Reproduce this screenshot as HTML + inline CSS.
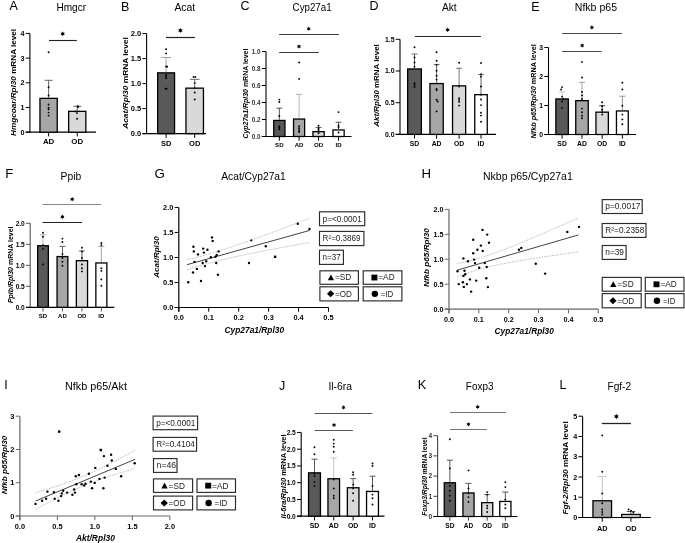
<!DOCTYPE html>
<html><head><meta charset="utf-8"><style>
html,body{margin:0;padding:0;background:#fff;}
svg{display:block;font-family:"Liberation Sans", sans-serif;will-change:transform;}
</style></head><body>
<svg width="685" height="543" viewBox="0 0 685 543">
<rect width="685" height="543" fill="#fff"/>
<text x="9.6" y="10.3" font-size="12.5" font-weight="normal" font-style="normal" text-anchor="start" fill="#000">A</text>
<text x="56.4" y="11.1" font-size="10.2" font-weight="normal" font-style="normal" text-anchor="start" fill="#000" textLength="29.7" lengthAdjust="spacingAndGlyphs">Hmgcr</text>
<text x="121.0" y="11.0" font-size="12.5" font-weight="normal" font-style="normal" text-anchor="start" fill="#000">B</text>
<text x="174.4" y="11.3" font-size="10.2" font-weight="normal" font-style="normal" text-anchor="start" fill="#000" textLength="20.8" lengthAdjust="spacingAndGlyphs">Acat</text>
<text x="240.6" y="10.3" font-size="12.5" font-weight="normal" font-style="normal" text-anchor="start" fill="#000">C</text>
<text x="292.6" y="11.3" font-size="10.2" font-weight="normal" font-style="normal" text-anchor="start" fill="#000" textLength="39" lengthAdjust="spacingAndGlyphs">Cyp27a1</text>
<text x="369.6" y="10.3" font-size="12.5" font-weight="normal" font-style="normal" text-anchor="start" fill="#000">D</text>
<text x="442.0" y="11.3" font-size="10.2" font-weight="normal" font-style="normal" text-anchor="start" fill="#000" textLength="14.7" lengthAdjust="spacingAndGlyphs">Akt</text>
<text x="531.3" y="11.0" font-size="12.5" font-weight="normal" font-style="normal" text-anchor="start" fill="#000">E</text>
<text x="574.8" y="11.3" font-size="10.2" font-weight="normal" font-style="normal" text-anchor="start" fill="#000" textLength="42.2" lengthAdjust="spacingAndGlyphs">Nfkb p65</text>
<line x1="29.9" y1="33.39999999999999" x2="29.9" y2="132.7" stroke="#000" stroke-width="1.1"/>
<line x1="25.7" y1="132.2" x2="29.9" y2="132.2" stroke="#000" stroke-width="1.0"/>
<text x="24.5" y="134.792" font-size="7.2" font-weight="bold" font-style="normal" text-anchor="end" fill="#000">0</text>
<line x1="25.7" y1="107.49999999999999" x2="29.9" y2="107.49999999999999" stroke="#000" stroke-width="1.0"/>
<text x="24.5" y="110.09199999999998" font-size="7.2" font-weight="bold" font-style="normal" text-anchor="end" fill="#000">1</text>
<line x1="25.7" y1="82.79999999999998" x2="29.9" y2="82.79999999999998" stroke="#000" stroke-width="1.0"/>
<text x="24.5" y="85.39199999999998" font-size="7.2" font-weight="bold" font-style="normal" text-anchor="end" fill="#000">2</text>
<line x1="25.7" y1="58.099999999999994" x2="29.9" y2="58.099999999999994" stroke="#000" stroke-width="1.0"/>
<text x="24.5" y="60.69199999999999" font-size="7.2" font-weight="bold" font-style="normal" text-anchor="end" fill="#000">3</text>
<line x1="25.7" y1="33.39999999999999" x2="29.9" y2="33.39999999999999" stroke="#000" stroke-width="1.0"/>
<text x="24.5" y="35.99199999999999" font-size="7.2" font-weight="bold" font-style="normal" text-anchor="end" fill="#000">4</text>
<line x1="25.7" y1="132.2" x2="96" y2="132.2" stroke="#000" stroke-width="1.2"/>
<line x1="48.599999999999994" y1="97.7" x2="48.599999999999994" y2="80.3" stroke="#555" stroke-width="0.9"/>
<line x1="44.599999999999994" y1="80.3" x2="52.599999999999994" y2="80.3" stroke="#555" stroke-width="0.9"/>
<rect x="39.949999999999996" y="98.35000000000001" width="17.3" height="33.84999999999999" fill="#a6a6a6" stroke="#000" stroke-width="1.3"/>
<line x1="48.599999999999994" y1="132.2" x2="48.599999999999994" y2="136.39999999999998" stroke="#000" stroke-width="1.0"/>
<text x="48.599999999999994" y="144.3" font-size="7.9" font-weight="bold" font-style="normal" text-anchor="middle" fill="#000">AD</text>
<line x1="77.25" y1="110.7" x2="77.25" y2="106.3" stroke="#555" stroke-width="0.9"/>
<line x1="73.25" y1="106.3" x2="81.25" y2="106.3" stroke="#555" stroke-width="0.9"/>
<rect x="68.65" y="111.35000000000001" width="17.2" height="20.849999999999987" fill="#d9d9d9" stroke="#000" stroke-width="1.3"/>
<line x1="77.25" y1="132.2" x2="77.25" y2="136.39999999999998" stroke="#000" stroke-width="1.0"/>
<text x="77.25" y="144.3" font-size="7.9" font-weight="bold" font-style="normal" text-anchor="middle" fill="#000">OD</text>
<circle cx="48.599999999999994" cy="52.3" r="0.95" fill="#000"/>
<circle cx="48.599999999999994" cy="87.2" r="0.95" fill="#000"/>
<circle cx="48.599999999999994" cy="95.5" r="0.95" fill="#000"/>
<circle cx="48.599999999999994" cy="104.5" r="0.95" fill="#000"/>
<circle cx="48.599999999999994" cy="107.6" r="0.95" fill="#000"/>
<circle cx="48.599999999999994" cy="109.3" r="0.95" fill="#000"/>
<circle cx="48.599999999999994" cy="112.6" r="0.95" fill="#000"/>
<circle cx="48.599999999999994" cy="115.6" r="0.95" fill="#000"/>
<circle cx="77.65" cy="106.3" r="0.95" fill="#000"/>
<circle cx="75.95" cy="111.5" r="0.95" fill="#000"/>
<circle cx="77.05" cy="113.1" r="0.95" fill="#000"/>
<circle cx="77.05" cy="118.7" r="0.95" fill="#000"/>
<circle cx="78.25" cy="107" r="0.95" fill="#000"/>
<line x1="49" y1="40.5" x2="76.8" y2="40.5" stroke="#222" stroke-width="1.1"/>
<polygon points="62.70,31.30 62.08,32.72 60.53,32.55 61.45,33.80 60.53,35.05 62.08,34.88 62.70,36.30 63.33,34.88 64.87,35.05 63.95,33.80 64.87,32.55 63.33,32.72" fill="#000"/>
<text transform="translate(15.736,82.4) rotate(-90)" x="0" y="0" font-size="7.6" font-weight="bold" text-anchor="middle" textLength="107" lengthAdjust="spacingAndGlyphs"><tspan font-style="italic">Hmgcoar/Rpl30</tspan> mRNA level</text>
<line x1="146.6" y1="33.599999999999994" x2="146.6" y2="134.1" stroke="#000" stroke-width="1.1"/>
<line x1="142.4" y1="133.6" x2="146.6" y2="133.6" stroke="#000" stroke-width="1.0"/>
<text x="141.20000000000002" y="136.29999999999998" font-size="7.5" font-weight="bold" font-style="normal" text-anchor="end" fill="#000">0.0</text>
<line x1="142.4" y1="108.6" x2="146.6" y2="108.6" stroke="#000" stroke-width="1.0"/>
<text x="141.20000000000002" y="111.3" font-size="7.5" font-weight="bold" font-style="normal" text-anchor="end" fill="#000">0.5</text>
<line x1="142.4" y1="83.6" x2="146.6" y2="83.6" stroke="#000" stroke-width="1.0"/>
<text x="141.20000000000002" y="86.3" font-size="7.5" font-weight="bold" font-style="normal" text-anchor="end" fill="#000">1.0</text>
<line x1="142.4" y1="58.599999999999994" x2="146.6" y2="58.599999999999994" stroke="#000" stroke-width="1.0"/>
<text x="141.20000000000002" y="61.3" font-size="7.5" font-weight="bold" font-style="normal" text-anchor="end" fill="#000">1.5</text>
<line x1="142.4" y1="33.599999999999994" x2="146.6" y2="33.599999999999994" stroke="#000" stroke-width="1.0"/>
<text x="141.20000000000002" y="36.3" font-size="7.5" font-weight="bold" font-style="normal" text-anchor="end" fill="#000">2.0</text>
<line x1="142.4" y1="133.6" x2="206" y2="133.6" stroke="#000" stroke-width="1.2"/>
<line x1="166.1" y1="72.2" x2="166.1" y2="57.5" stroke="#999" stroke-width="0.9"/>
<line x1="161.2" y1="57.5" x2="171.0" y2="57.5" stroke="#999" stroke-width="0.9"/>
<rect x="157.65" y="72.85000000000001" width="16.899999999999988" height="60.74999999999999" fill="#595959" stroke="#000" stroke-width="1.3"/>
<line x1="166.1" y1="133.6" x2="166.1" y2="137.79999999999998" stroke="#000" stroke-width="1.0"/>
<text x="166.1" y="145.7" font-size="7.5" font-weight="bold" font-style="normal" text-anchor="middle" fill="#000">SD</text>
<line x1="194.7" y1="87.5" x2="194.7" y2="79.3" stroke="#555" stroke-width="0.9"/>
<line x1="189.79999999999998" y1="79.3" x2="199.6" y2="79.3" stroke="#555" stroke-width="0.9"/>
<rect x="185.95000000000002" y="88.15" width="17.499999999999982" height="45.449999999999996" fill="#d9d9d9" stroke="#000" stroke-width="1.3"/>
<line x1="194.7" y1="133.6" x2="194.7" y2="137.79999999999998" stroke="#000" stroke-width="1.0"/>
<text x="194.7" y="145.7" font-size="7.5" font-weight="bold" font-style="normal" text-anchor="middle" fill="#000">OD</text>
<circle cx="166.1" cy="49.2" r="0.95" fill="#000"/>
<circle cx="166.1" cy="53.4" r="0.95" fill="#000"/>
<circle cx="166.1" cy="66.4" r="0.95" fill="#000"/>
<circle cx="167.1" cy="66.8" r="0.95" fill="#000"/>
<circle cx="166.1" cy="74.9" r="0.95" fill="#000"/>
<circle cx="166.1" cy="76.5" r="0.95" fill="#000"/>
<circle cx="166.1" cy="78.2" r="0.95" fill="#000"/>
<circle cx="165.5" cy="88.7" r="0.95" fill="#000"/>
<circle cx="166.7" cy="88.7" r="0.95" fill="#000"/>
<circle cx="193.6" cy="76.9" r="0.95" fill="#000"/>
<circle cx="195.29999999999998" cy="76.9" r="0.95" fill="#000"/>
<circle cx="194.7" cy="83.1" r="0.95" fill="#000"/>
<circle cx="194.7" cy="88.1" r="0.95" fill="#000"/>
<circle cx="194.7" cy="92.5" r="0.95" fill="#000"/>
<circle cx="194.7" cy="99.5" r="0.95" fill="#000"/>
<line x1="166" y1="37.5" x2="194.9" y2="37.5" stroke="#222" stroke-width="1.2"/>
<polygon points="180.40,27.90 179.75,29.37 178.15,29.20 179.10,30.50 178.15,31.80 179.75,31.63 180.40,33.10 181.05,31.63 182.65,31.80 181.70,30.50 182.65,29.20 181.05,29.37" fill="#000"/>
<text transform="translate(127.63600000000001,83) rotate(-90)" x="0" y="0" font-size="7.6" font-weight="bold" text-anchor="middle" textLength="91.7" lengthAdjust="spacingAndGlyphs"><tspan font-style="italic">Acat/Rpl30</tspan> mRNA level</text>
<line x1="266" y1="51.5" x2="266" y2="137.0" stroke="#000" stroke-width="1.1"/>
<line x1="261.8" y1="136.5" x2="266" y2="136.5" stroke="#000" stroke-width="1.0"/>
<text x="260.6" y="138.768" font-size="6.3" font-weight="bold" font-style="normal" text-anchor="end" fill="#333">0.0</text>
<line x1="261.8" y1="119.5" x2="266" y2="119.5" stroke="#000" stroke-width="1.0"/>
<text x="260.6" y="121.768" font-size="6.3" font-weight="bold" font-style="normal" text-anchor="end" fill="#333">0.2</text>
<line x1="261.8" y1="102.5" x2="266" y2="102.5" stroke="#000" stroke-width="1.0"/>
<text x="260.6" y="104.768" font-size="6.3" font-weight="bold" font-style="normal" text-anchor="end" fill="#333">0.4</text>
<line x1="261.8" y1="85.5" x2="266" y2="85.5" stroke="#000" stroke-width="1.0"/>
<text x="260.6" y="87.768" font-size="6.3" font-weight="bold" font-style="normal" text-anchor="end" fill="#333">0.6</text>
<line x1="261.8" y1="68.5" x2="266" y2="68.5" stroke="#000" stroke-width="1.0"/>
<text x="260.6" y="70.768" font-size="6.3" font-weight="bold" font-style="normal" text-anchor="end" fill="#333">0.8</text>
<line x1="261.8" y1="51.5" x2="266" y2="51.5" stroke="#000" stroke-width="1.0"/>
<text x="260.6" y="53.768" font-size="6.3" font-weight="bold" font-style="normal" text-anchor="end" fill="#333">1.0</text>
<line x1="261.8" y1="136.5" x2="351.5" y2="136.5" stroke="#000" stroke-width="1.2"/>
<line x1="279.35" y1="119.8" x2="279.35" y2="108.2" stroke="#444" stroke-width="0.9"/>
<line x1="276.45000000000005" y1="108.2" x2="282.25" y2="108.2" stroke="#444" stroke-width="0.9"/>
<rect x="273.75" y="120.45" width="11.2" height="16.050000000000004" fill="#595959" stroke="#000" stroke-width="1.3"/>
<line x1="279.35" y1="136.5" x2="279.35" y2="140.7" stroke="#000" stroke-width="1.0"/>
<text x="279.35" y="147" font-size="6.1" font-weight="bold" font-style="normal" text-anchor="middle" fill="#000">SD</text>
<line x1="299.1" y1="118.4" x2="299.1" y2="94.4" stroke="#aaa" stroke-width="0.9"/>
<line x1="296.20000000000005" y1="94.4" x2="302.0" y2="94.4" stroke="#aaa" stroke-width="0.9"/>
<rect x="293.54999999999995" y="119.05000000000001" width="11.100000000000033" height="17.449999999999996" fill="#a6a6a6" stroke="#000" stroke-width="1.3"/>
<line x1="299.1" y1="136.5" x2="299.1" y2="140.7" stroke="#000" stroke-width="1.0"/>
<text x="299.1" y="147" font-size="6.1" font-weight="bold" font-style="normal" text-anchor="middle" fill="#000">AD</text>
<line x1="318.55" y1="131" x2="318.55" y2="127.5" stroke="#444" stroke-width="0.9"/>
<line x1="315.65000000000003" y1="127.5" x2="321.45" y2="127.5" stroke="#444" stroke-width="0.9"/>
<rect x="312.95" y="131.65" width="11.2" height="4.85" fill="#d9d9d9" stroke="#000" stroke-width="1.3"/>
<line x1="318.55" y1="136.5" x2="318.55" y2="140.7" stroke="#000" stroke-width="1.0"/>
<text x="318.55" y="147" font-size="6.1" font-weight="bold" font-style="normal" text-anchor="middle" fill="#000">OD</text>
<line x1="338.55" y1="129.3" x2="338.55" y2="122.3" stroke="#444" stroke-width="0.9"/>
<line x1="335.65000000000003" y1="122.3" x2="341.45" y2="122.3" stroke="#444" stroke-width="0.9"/>
<rect x="332.95" y="129.95000000000002" width="11.2" height="6.549999999999988" fill="#ffffff" stroke="#000" stroke-width="1.3"/>
<line x1="338.55" y1="136.5" x2="338.55" y2="140.7" stroke="#000" stroke-width="1.0"/>
<text x="338.55" y="147" font-size="6.1" font-weight="bold" font-style="normal" text-anchor="middle" fill="#000">ID</text>
<circle cx="279.35" cy="99.6" r="0.95" fill="#000"/>
<circle cx="279.35" cy="102" r="0.95" fill="#000"/>
<circle cx="279.35" cy="116" r="0.95" fill="#000"/>
<circle cx="279.35" cy="126.2" r="0.95" fill="#000"/>
<circle cx="279.35" cy="127.8" r="0.95" fill="#000"/>
<circle cx="279.35" cy="129.3" r="0.95" fill="#000"/>
<circle cx="299.1" cy="62.5" r="0.95" fill="#000"/>
<circle cx="299.1" cy="78.9" r="0.95" fill="#000"/>
<circle cx="299.1" cy="126.2" r="0.95" fill="#000"/>
<circle cx="299.1" cy="128.2" r="0.95" fill="#000"/>
<circle cx="299.1" cy="130.2" r="0.95" fill="#000"/>
<circle cx="299.1" cy="132" r="0.95" fill="#000"/>
<circle cx="318.55" cy="125.7" r="0.95" fill="#000"/>
<circle cx="318.55" cy="128.5" r="0.95" fill="#000"/>
<circle cx="318.55" cy="130" r="0.95" fill="#000"/>
<circle cx="318.55" cy="131.5" r="0.95" fill="#000"/>
<circle cx="318.55" cy="133.2" r="0.95" fill="#000"/>
<circle cx="338.55" cy="112.1" r="0.95" fill="#000"/>
<circle cx="338.55" cy="125.4" r="0.95" fill="#000"/>
<circle cx="338.55" cy="127.3" r="0.95" fill="#000"/>
<circle cx="338.55" cy="132.5" r="0.95" fill="#000"/>
<line x1="279.1" y1="34.5" x2="338.9" y2="34.5" stroke="#222" stroke-width="0.9"/>
<polygon points="308.70,26.50 308.12,27.80 306.71,27.65 307.55,28.80 306.71,29.95 308.12,29.80 308.70,31.10 309.27,29.80 310.69,29.95 309.85,28.80 310.69,27.65 309.27,27.80" fill="#000"/>
<line x1="279.1" y1="52.5" x2="318.9" y2="52.5" stroke="#222" stroke-width="0.9"/>
<polygon points="299.00,44.20 298.43,45.50 297.01,45.35 297.85,46.50 297.01,47.65 298.43,47.50 299.00,48.80 299.57,47.50 300.99,47.65 300.15,46.50 300.99,45.35 299.57,45.50" fill="#000"/>
<text transform="translate(247.576,93.6) rotate(-90)" x="0" y="0" font-size="6.6" font-weight="bold" text-anchor="middle" textLength="90" lengthAdjust="spacingAndGlyphs"><tspan font-style="italic">Cyp27a1/Rpl30</tspan> mRNA level</text>
<line x1="400" y1="39.30000000000001" x2="400" y2="134.9" stroke="#000" stroke-width="1.1"/>
<line x1="395.8" y1="134.4" x2="400" y2="134.4" stroke="#000" stroke-width="1.0"/>
<text x="394.6" y="136.88400000000001" font-size="6.9" font-weight="bold" font-style="normal" text-anchor="end" fill="#000">0.0</text>
<line x1="395.8" y1="102.7" x2="400" y2="102.7" stroke="#000" stroke-width="1.0"/>
<text x="394.6" y="105.184" font-size="6.9" font-weight="bold" font-style="normal" text-anchor="end" fill="#000">0.5</text>
<line x1="395.8" y1="71.0" x2="400" y2="71.0" stroke="#000" stroke-width="1.0"/>
<text x="394.6" y="73.484" font-size="6.9" font-weight="bold" font-style="normal" text-anchor="end" fill="#000">1.0</text>
<line x1="395.8" y1="39.30000000000001" x2="400" y2="39.30000000000001" stroke="#000" stroke-width="1.0"/>
<text x="394.6" y="41.78400000000001" font-size="6.9" font-weight="bold" font-style="normal" text-anchor="end" fill="#000">1.5</text>
<line x1="395.8" y1="134.4" x2="496" y2="134.4" stroke="#000" stroke-width="1.2"/>
<line x1="414.5" y1="68.3" x2="414.5" y2="54" stroke="#555" stroke-width="0.9"/>
<line x1="411.6" y1="54" x2="417.4" y2="54" stroke="#555" stroke-width="0.9"/>
<rect x="407.65" y="68.95" width="13.7" height="65.45" fill="#595959" stroke="#000" stroke-width="1.3"/>
<line x1="414.5" y1="134.4" x2="414.5" y2="138.6" stroke="#000" stroke-width="1.0"/>
<text x="414.5" y="146" font-size="6.8" font-weight="bold" font-style="normal" text-anchor="middle" fill="#000">SD</text>
<line x1="436.6" y1="82.9" x2="436.6" y2="64.6" stroke="#555" stroke-width="0.9"/>
<line x1="433.70000000000005" y1="64.6" x2="439.5" y2="64.6" stroke="#555" stroke-width="0.9"/>
<rect x="429.95" y="83.55000000000001" width="13.299999999999965" height="50.85" fill="#a6a6a6" stroke="#000" stroke-width="1.3"/>
<line x1="436.6" y1="134.4" x2="436.6" y2="138.6" stroke="#000" stroke-width="1.0"/>
<text x="436.6" y="146" font-size="6.8" font-weight="bold" font-style="normal" text-anchor="middle" fill="#000">AD</text>
<line x1="459.1" y1="85.2" x2="459.1" y2="68.3" stroke="#666" stroke-width="0.9"/>
<line x1="456.20000000000005" y1="68.3" x2="462.0" y2="68.3" stroke="#666" stroke-width="0.9"/>
<rect x="452.54999999999995" y="85.85000000000001" width="13.100000000000033" height="48.550000000000004" fill="#d9d9d9" stroke="#000" stroke-width="1.3"/>
<line x1="459.1" y1="134.4" x2="459.1" y2="138.6" stroke="#000" stroke-width="1.0"/>
<text x="459.1" y="146" font-size="6.8" font-weight="bold" font-style="normal" text-anchor="middle" fill="#000">OD</text>
<line x1="481.0" y1="94" x2="481.0" y2="74.6" stroke="#555" stroke-width="0.9"/>
<line x1="478.1" y1="74.6" x2="483.9" y2="74.6" stroke="#555" stroke-width="0.9"/>
<rect x="474.75" y="94.65" width="12.499999999999954" height="39.75000000000001" fill="#ffffff" stroke="#000" stroke-width="1.3"/>
<line x1="481.0" y1="134.4" x2="481.0" y2="138.6" stroke="#000" stroke-width="1.0"/>
<text x="481.0" y="146" font-size="6.8" font-weight="bold" font-style="normal" text-anchor="middle" fill="#000">ID</text>
<circle cx="414.5" cy="47.2" r="0.95" fill="#000"/>
<circle cx="414.5" cy="57.5" r="0.95" fill="#000"/>
<circle cx="414.5" cy="62.5" r="0.95" fill="#000"/>
<circle cx="414.5" cy="66.6" r="0.95" fill="#000"/>
<circle cx="414.5" cy="83.2" r="0.95" fill="#000"/>
<circle cx="414.5" cy="84.9" r="0.95" fill="#000"/>
<circle cx="414.5" cy="86.9" r="0.95" fill="#000"/>
<circle cx="436.6" cy="52.2" r="0.95" fill="#000"/>
<circle cx="436.6" cy="60.8" r="0.95" fill="#000"/>
<circle cx="436.6" cy="64.8" r="0.95" fill="#000"/>
<circle cx="436.6" cy="70.8" r="0.95" fill="#000"/>
<circle cx="436.6" cy="75.8" r="0.95" fill="#000"/>
<circle cx="436.6" cy="79.6" r="0.95" fill="#000"/>
<circle cx="436.6" cy="89" r="0.95" fill="#000"/>
<circle cx="436.6" cy="90.2" r="0.95" fill="#000"/>
<circle cx="436.6" cy="99.8" r="0.95" fill="#000"/>
<circle cx="437.6" cy="101.5" r="0.95" fill="#000"/>
<circle cx="436.6" cy="111.4" r="0.95" fill="#000"/>
<circle cx="459.1" cy="62.8" r="0.95" fill="#000"/>
<circle cx="459.1" cy="86.5" r="0.95" fill="#000"/>
<circle cx="459.1" cy="98.1" r="0.95" fill="#000"/>
<circle cx="459.1" cy="99.8" r="0.95" fill="#000"/>
<circle cx="459.1" cy="101.8" r="0.95" fill="#000"/>
<circle cx="459.1" cy="105.6" r="0.95" fill="#000"/>
<circle cx="481.0" cy="63" r="0.95" fill="#000"/>
<circle cx="481.0" cy="74.1" r="0.95" fill="#000"/>
<circle cx="481.0" cy="76.6" r="0.95" fill="#000"/>
<circle cx="481.0" cy="86.5" r="0.95" fill="#000"/>
<circle cx="481.0" cy="94.8" r="0.95" fill="#000"/>
<circle cx="481.0" cy="99.5" r="0.95" fill="#000"/>
<circle cx="481.0" cy="105.1" r="0.95" fill="#000"/>
<circle cx="481.0" cy="112.7" r="0.95" fill="#000"/>
<circle cx="481.0" cy="115.6" r="0.95" fill="#000"/>
<circle cx="481.0" cy="121.7" r="0.95" fill="#000"/>
<line x1="414.9" y1="36.5" x2="480.9" y2="36.5" stroke="#222" stroke-width="1.0"/>
<polygon points="447.60,27.50 447.00,28.86 445.52,28.70 446.40,29.90 445.52,31.10 447.00,30.94 447.60,32.30 448.20,30.94 449.68,31.10 448.80,29.90 449.68,28.70 448.20,28.86" fill="#000"/>
<text transform="translate(378.99199999999996,85.5) rotate(-90)" x="0" y="0" font-size="7.2" font-weight="bold" text-anchor="middle" textLength="82.5" lengthAdjust="spacingAndGlyphs"><tspan font-style="italic">Akt/Rpl30</tspan> mRNA level</text>
<line x1="548.5" y1="47.5" x2="548.5" y2="135.0" stroke="#000" stroke-width="1.1"/>
<line x1="544.3" y1="134.5" x2="548.5" y2="134.5" stroke="#000" stroke-width="1.0"/>
<text x="543.0999999999999" y="136.948" font-size="6.8" font-weight="bold" font-style="normal" text-anchor="end" fill="#000">0</text>
<line x1="544.3" y1="105.5" x2="548.5" y2="105.5" stroke="#000" stroke-width="1.0"/>
<text x="543.0999999999999" y="107.948" font-size="6.8" font-weight="bold" font-style="normal" text-anchor="end" fill="#000">1</text>
<line x1="544.3" y1="76.5" x2="548.5" y2="76.5" stroke="#000" stroke-width="1.0"/>
<text x="543.0999999999999" y="78.948" font-size="6.8" font-weight="bold" font-style="normal" text-anchor="end" fill="#000">2</text>
<line x1="544.3" y1="47.5" x2="548.5" y2="47.5" stroke="#000" stroke-width="1.0"/>
<text x="543.0999999999999" y="49.948" font-size="6.8" font-weight="bold" font-style="normal" text-anchor="end" fill="#000">3</text>
<line x1="544.3" y1="134.5" x2="636" y2="134.5" stroke="#000" stroke-width="1.2"/>
<line x1="562.1" y1="98.3" x2="562.1" y2="91.9" stroke="#bbb" stroke-width="0.9"/>
<line x1="559.1" y1="91.9" x2="565.1" y2="91.9" stroke="#bbb" stroke-width="0.9"/>
<rect x="555.85" y="98.95" width="12.499999999999954" height="35.550000000000004" fill="#595959" stroke="#000" stroke-width="1.3"/>
<line x1="562.1" y1="134.5" x2="562.1" y2="138.7" stroke="#000" stroke-width="1.0"/>
<text x="562.1" y="146.2" font-size="6.8" font-weight="bold" font-style="normal" text-anchor="middle" fill="#000">SD</text>
<line x1="582.0" y1="100" x2="582.0" y2="82.3" stroke="#999" stroke-width="0.9"/>
<line x1="579.0" y1="82.3" x2="585.0" y2="82.3" stroke="#999" stroke-width="0.9"/>
<rect x="575.75" y="100.65" width="12.499999999999954" height="33.85" fill="#a6a6a6" stroke="#000" stroke-width="1.3"/>
<line x1="582.0" y1="134.5" x2="582.0" y2="138.7" stroke="#000" stroke-width="1.0"/>
<text x="582.0" y="146.2" font-size="6.8" font-weight="bold" font-style="normal" text-anchor="middle" fill="#000">AD</text>
<line x1="602.15" y1="111.5" x2="602.15" y2="105.7" stroke="#444" stroke-width="0.9"/>
<line x1="599.15" y1="105.7" x2="605.15" y2="105.7" stroke="#444" stroke-width="0.9"/>
<rect x="595.9499999999999" y="112.15" width="12.400000000000045" height="22.35" fill="#d9d9d9" stroke="#000" stroke-width="1.3"/>
<line x1="602.15" y1="134.5" x2="602.15" y2="138.7" stroke="#000" stroke-width="1.0"/>
<text x="602.15" y="146.2" font-size="6.8" font-weight="bold" font-style="normal" text-anchor="middle" fill="#000">OD</text>
<line x1="622.3499999999999" y1="110.3" x2="622.3499999999999" y2="96.2" stroke="#888" stroke-width="0.9"/>
<line x1="619.3499999999999" y1="96.2" x2="625.3499999999999" y2="96.2" stroke="#888" stroke-width="0.9"/>
<rect x="616.4499999999999" y="110.95" width="11.800000000000022" height="23.550000000000004" fill="#ffffff" stroke="#000" stroke-width="1.3"/>
<line x1="622.3499999999999" y1="134.5" x2="622.3499999999999" y2="138.7" stroke="#000" stroke-width="1.0"/>
<text x="622.3499999999999" y="146.2" font-size="6.8" font-weight="bold" font-style="normal" text-anchor="middle" fill="#000">ID</text>
<circle cx="562.1" cy="87.1" r="0.95" fill="#000"/>
<circle cx="561.1" cy="89.5" r="0.95" fill="#000"/>
<circle cx="562.1" cy="96.6" r="0.95" fill="#000"/>
<circle cx="563.1" cy="99" r="0.95" fill="#000"/>
<circle cx="562.1" cy="101.4" r="0.95" fill="#000"/>
<circle cx="562.1" cy="108.1" r="0.95" fill="#000"/>
<circle cx="582.0" cy="61.9" r="0.95" fill="#000"/>
<circle cx="582.0" cy="77.5" r="0.95" fill="#000"/>
<circle cx="582.0" cy="91.9" r="0.95" fill="#000"/>
<circle cx="582.0" cy="95.4" r="0.95" fill="#000"/>
<circle cx="582.0" cy="99" r="0.95" fill="#000"/>
<circle cx="582.0" cy="108.6" r="0.95" fill="#000"/>
<circle cx="582.0" cy="112.2" r="0.95" fill="#000"/>
<circle cx="582.0" cy="115.8" r="0.95" fill="#000"/>
<circle cx="582.0" cy="118.2" r="0.95" fill="#000"/>
<circle cx="602.15" cy="102.2" r="0.95" fill="#000"/>
<circle cx="602.15" cy="106.2" r="0.95" fill="#000"/>
<circle cx="602.15" cy="109.8" r="0.95" fill="#000"/>
<circle cx="602.15" cy="112.2" r="0.95" fill="#000"/>
<circle cx="602.15" cy="114.6" r="0.95" fill="#000"/>
<circle cx="622.3499999999999" cy="82.8" r="0.95" fill="#000"/>
<circle cx="622.3499999999999" cy="89.5" r="0.95" fill="#000"/>
<circle cx="622.3499999999999" cy="105.7" r="0.95" fill="#000"/>
<circle cx="622.3499999999999" cy="114.6" r="0.95" fill="#000"/>
<circle cx="622.3499999999999" cy="119.4" r="0.95" fill="#000"/>
<circle cx="622.3499999999999" cy="124.2" r="0.95" fill="#000"/>
<line x1="562.1" y1="33.5" x2="622" y2="33.5" stroke="#333" stroke-width="0.9"/>
<polygon points="591.90,25.10 591.32,26.40 589.91,26.25 590.75,27.40 589.91,28.55 591.32,28.40 591.90,29.70 592.48,28.40 593.89,28.55 593.05,27.40 593.89,26.25 592.48,26.40" fill="#000"/>
<line x1="562.1" y1="51.5" x2="601.6" y2="51.5" stroke="#333" stroke-width="0.9"/>
<polygon points="582.20,43.20 581.62,44.50 580.21,44.35 581.05,45.50 580.21,46.65 581.62,46.50 582.20,47.80 582.78,46.50 584.19,46.65 583.35,45.50 584.19,44.35 582.78,44.50" fill="#000"/>
<text transform="translate(535.52,91.3) rotate(-90)" x="0" y="0" font-size="7.0" font-weight="bold" text-anchor="middle" textLength="94.3" lengthAdjust="spacingAndGlyphs"><tspan font-style="italic">Nfkb p65/Rpl30</tspan> mRNA level</text>
<text x="5.3" y="178.3" font-size="13.2" font-weight="normal" font-style="normal" text-anchor="start" fill="#000">F</text>
<text x="60.6" y="179.6" font-size="10.2" font-weight="normal" font-style="normal" text-anchor="start" fill="#000" textLength="20.6" lengthAdjust="spacingAndGlyphs">Ppib</text>
<text x="154.5" y="178.4" font-size="13.3" font-weight="normal" font-style="normal" text-anchor="start" fill="#000">G</text>
<text x="221.2" y="179.7" font-size="10.2" font-weight="normal" font-style="normal" text-anchor="start" fill="#000" textLength="64.6" lengthAdjust="spacingAndGlyphs">Acat/Cyp27a1</text>
<text x="421.6" y="178.4" font-size="13.2" font-weight="normal" font-style="normal" text-anchor="start" fill="#000">H</text>
<text x="483" y="179.7" font-size="10.2" font-weight="normal" font-style="normal" text-anchor="start" fill="#000" textLength="89.8" lengthAdjust="spacingAndGlyphs">Nkbp p65/Cyp27a1</text>
<line x1="30.2" y1="223.3" x2="30.2" y2="307.8" stroke="#555" stroke-width="1.1"/>
<line x1="26.0" y1="307.3" x2="30.2" y2="307.3" stroke="#555" stroke-width="1.0"/>
<text x="24.8" y="309.676" font-size="6.6" font-weight="bold" font-style="normal" text-anchor="end" fill="#000">0.0</text>
<line x1="26.0" y1="286.3" x2="30.2" y2="286.3" stroke="#555" stroke-width="1.0"/>
<text x="24.8" y="288.676" font-size="6.6" font-weight="bold" font-style="normal" text-anchor="end" fill="#000">0.5</text>
<line x1="26.0" y1="265.3" x2="30.2" y2="265.3" stroke="#555" stroke-width="1.0"/>
<text x="24.8" y="267.676" font-size="6.6" font-weight="bold" font-style="normal" text-anchor="end" fill="#000">1.0</text>
<line x1="26.0" y1="244.3" x2="30.2" y2="244.3" stroke="#555" stroke-width="1.0"/>
<text x="24.8" y="246.67600000000002" font-size="6.6" font-weight="bold" font-style="normal" text-anchor="end" fill="#000">1.5</text>
<line x1="26.0" y1="223.3" x2="30.2" y2="223.3" stroke="#555" stroke-width="1.0"/>
<text x="24.8" y="225.67600000000002" font-size="6.6" font-weight="bold" font-style="normal" text-anchor="end" fill="#000">2.0</text>
<line x1="26.0" y1="307.3" x2="114.4" y2="307.3" stroke="#000" stroke-width="1.2"/>
<line x1="43.0" y1="245.1" x2="43.0" y2="234.8" stroke="#aaa" stroke-width="0.9"/>
<line x1="40.0" y1="234.8" x2="46.0" y2="234.8" stroke="#aaa" stroke-width="0.9"/>
<rect x="37.65" y="245.75" width="10.7" height="61.55000000000002" fill="#595959" stroke="#000" stroke-width="1.3"/>
<line x1="43.0" y1="307.3" x2="43.0" y2="311.5" stroke="#555" stroke-width="1.0"/>
<text x="43.0" y="318.4" font-size="6.0" font-weight="bold" font-style="normal" text-anchor="middle" fill="#000">SD</text>
<line x1="62.45" y1="255.9" x2="62.45" y2="246.4" stroke="#555" stroke-width="0.9"/>
<line x1="59.45" y1="246.4" x2="65.45" y2="246.4" stroke="#555" stroke-width="0.9"/>
<rect x="57.05" y="256.55" width="10.8" height="50.75000000000001" fill="#a6a6a6" stroke="#000" stroke-width="1.3"/>
<line x1="62.45" y1="307.3" x2="62.45" y2="311.5" stroke="#555" stroke-width="1.0"/>
<text x="62.45" y="318.4" font-size="6.0" font-weight="bold" font-style="normal" text-anchor="middle" fill="#000">AD</text>
<line x1="81.95" y1="260" x2="81.95" y2="251" stroke="#555" stroke-width="0.9"/>
<line x1="78.95" y1="251" x2="84.95" y2="251" stroke="#555" stroke-width="0.9"/>
<rect x="76.35000000000001" y="260.65" width="11.2" height="46.65000000000001" fill="#d9d9d9" stroke="#000" stroke-width="1.3"/>
<line x1="81.95" y1="307.3" x2="81.95" y2="311.5" stroke="#555" stroke-width="1.0"/>
<text x="81.95" y="318.4" font-size="6.0" font-weight="bold" font-style="normal" text-anchor="middle" fill="#000">OD</text>
<line x1="101.35" y1="262.3" x2="101.35" y2="246.4" stroke="#999" stroke-width="0.9"/>
<line x1="98.35" y1="246.4" x2="104.35" y2="246.4" stroke="#999" stroke-width="0.9"/>
<rect x="95.85000000000001" y="262.95" width="10.999999999999996" height="44.35" fill="#ffffff" stroke="#000" stroke-width="1.3"/>
<line x1="101.35" y1="307.3" x2="101.35" y2="311.5" stroke="#555" stroke-width="1.0"/>
<text x="101.35" y="318.4" font-size="6.0" font-weight="bold" font-style="normal" text-anchor="middle" fill="#000">ID</text>
<circle cx="43.0" cy="232.7" r="0.95" fill="#000"/>
<circle cx="43.0" cy="236.8" r="0.95" fill="#000"/>
<circle cx="43.0" cy="245.1" r="0.95" fill="#000"/>
<circle cx="43.0" cy="248.9" r="0.95" fill="#000"/>
<circle cx="43.0" cy="264.4" r="0.95" fill="#000"/>
<circle cx="62.45" cy="238.6" r="0.95" fill="#000"/>
<circle cx="62.45" cy="242" r="0.95" fill="#000"/>
<circle cx="62.45" cy="254.1" r="0.95" fill="#000"/>
<circle cx="62.45" cy="258" r="0.95" fill="#000"/>
<circle cx="62.45" cy="261.8" r="0.95" fill="#000"/>
<circle cx="62.45" cy="265.7" r="0.95" fill="#000"/>
<circle cx="81.95" cy="247.7" r="0.95" fill="#000"/>
<circle cx="81.95" cy="251.5" r="0.95" fill="#000"/>
<circle cx="81.95" cy="258" r="0.95" fill="#000"/>
<circle cx="81.95" cy="264.4" r="0.95" fill="#000"/>
<circle cx="81.95" cy="268.3" r="0.95" fill="#000"/>
<circle cx="81.95" cy="271.4" r="0.95" fill="#000"/>
<circle cx="101.35" cy="243" r="0.95" fill="#000"/>
<circle cx="101.35" cy="245.1" r="0.95" fill="#000"/>
<circle cx="101.35" cy="268.3" r="0.95" fill="#000"/>
<circle cx="101.35" cy="270.9" r="0.95" fill="#000"/>
<circle cx="101.35" cy="279.4" r="0.95" fill="#000"/>
<circle cx="101.35" cy="285.8" r="0.95" fill="#000"/>
<line x1="42.5" y1="204.5" x2="101.1" y2="204.5" stroke="#888" stroke-width="1.0"/>
<polygon points="72.20,196.80 71.60,198.16 70.12,198.00 71.00,199.20 70.12,200.40 71.60,200.24 72.20,201.60 72.80,200.24 74.28,200.40 73.40,199.20 74.28,198.00 72.80,198.16" fill="#000"/>
<line x1="42.5" y1="222.5" x2="82" y2="222.5" stroke="#222" stroke-width="1.0"/>
<polygon points="62.40,214.50 61.80,215.86 60.32,215.70 61.20,216.90 60.32,218.10 61.80,217.94 62.40,219.30 63.00,217.94 64.48,218.10 63.60,216.90 64.48,215.70 63.00,215.86" fill="#000"/>
<text transform="translate(13.32,264.8) rotate(-90)" x="0" y="0" font-size="7.0" font-weight="bold" text-anchor="middle" textLength="76.6" lengthAdjust="spacingAndGlyphs"><tspan font-style="italic">Ppib/Rpl30</tspan> mRNA level</text>
<text x="4.3" y="389.3" font-size="12.5" font-weight="normal" font-style="normal" text-anchor="start" fill="#000">I</text>
<text x="65" y="390.4" font-size="10.2" font-weight="normal" font-style="normal" text-anchor="start" fill="#000" textLength="61.9" lengthAdjust="spacingAndGlyphs">Nfkb p65/Akt</text>
<text x="279.0" y="390.4" font-size="12.5" font-weight="normal" font-style="normal" text-anchor="start" fill="#000">J</text>
<text x="328.4" y="390.4" font-size="10.2" font-weight="normal" font-style="normal" text-anchor="start" fill="#000" textLength="23.6" lengthAdjust="spacingAndGlyphs">Il-6ra</text>
<text x="417.8" y="389.4" font-size="12.8" font-weight="normal" font-style="normal" text-anchor="start" fill="#000">K</text>
<text x="465.8" y="390.4" font-size="10.2" font-weight="normal" font-style="normal" text-anchor="start" fill="#000" textLength="27.7" lengthAdjust="spacingAndGlyphs">Foxp3</text>
<text x="559.4" y="389.2" font-size="12.6" font-weight="normal" font-style="normal" text-anchor="start" fill="#000">L</text>
<text x="607.5" y="390.4" font-size="10.2" font-weight="normal" font-style="normal" text-anchor="start" fill="#000" textLength="23.6" lengthAdjust="spacingAndGlyphs">Fgf-2</text>
<line x1="301.2" y1="432.45000000000005" x2="301.2" y2="516.7" stroke="#000" stroke-width="1.1"/>
<line x1="297.0" y1="516.2" x2="301.2" y2="516.2" stroke="#000" stroke-width="1.0"/>
<text x="295.8" y="518.576" font-size="6.6" font-weight="bold" font-style="normal" text-anchor="end" fill="#000">0.0</text>
<line x1="297.0" y1="499.45000000000005" x2="301.2" y2="499.45000000000005" stroke="#000" stroke-width="1.0"/>
<text x="295.8" y="501.826" font-size="6.6" font-weight="bold" font-style="normal" text-anchor="end" fill="#000">0.5</text>
<line x1="297.0" y1="482.70000000000005" x2="301.2" y2="482.70000000000005" stroke="#000" stroke-width="1.0"/>
<text x="295.8" y="485.076" font-size="6.6" font-weight="bold" font-style="normal" text-anchor="end" fill="#000">1.0</text>
<line x1="297.0" y1="465.95000000000005" x2="301.2" y2="465.95000000000005" stroke="#000" stroke-width="1.0"/>
<text x="295.8" y="468.326" font-size="6.6" font-weight="bold" font-style="normal" text-anchor="end" fill="#000">1.5</text>
<line x1="297.0" y1="449.20000000000005" x2="301.2" y2="449.20000000000005" stroke="#000" stroke-width="1.0"/>
<text x="295.8" y="451.576" font-size="6.6" font-weight="bold" font-style="normal" text-anchor="end" fill="#000">2.0</text>
<line x1="297.0" y1="432.45000000000005" x2="301.2" y2="432.45000000000005" stroke="#000" stroke-width="1.0"/>
<text x="295.8" y="434.826" font-size="6.6" font-weight="bold" font-style="normal" text-anchor="end" fill="#000">2.5</text>
<line x1="297.0" y1="516.2" x2="384.5" y2="516.2" stroke="#000" stroke-width="1.2"/>
<line x1="314.5" y1="472.2" x2="314.5" y2="459.2" stroke="#444" stroke-width="0.9"/>
<line x1="311.5" y1="459.2" x2="317.5" y2="459.2" stroke="#444" stroke-width="0.9"/>
<rect x="308.54999999999995" y="472.84999999999997" width="11.900000000000045" height="43.35000000000006" fill="#595959" stroke="#000" stroke-width="1.3"/>
<line x1="314.5" y1="516.2" x2="314.5" y2="520.4000000000001" stroke="#000" stroke-width="1.0"/>
<text x="314.5" y="527.7" font-size="6.9" font-weight="bold" font-style="normal" text-anchor="middle" fill="#000">SD</text>
<line x1="333.75" y1="478.1" x2="333.75" y2="458" stroke="#bbb" stroke-width="0.9"/>
<line x1="330.75" y1="458" x2="336.75" y2="458" stroke="#bbb" stroke-width="0.9"/>
<rect x="327.95" y="478.75" width="11.599999999999977" height="37.450000000000024" fill="#a6a6a6" stroke="#000" stroke-width="1.3"/>
<line x1="333.75" y1="516.2" x2="333.75" y2="520.4000000000001" stroke="#000" stroke-width="1.0"/>
<text x="333.75" y="527.7" font-size="6.9" font-weight="bold" font-style="normal" text-anchor="middle" fill="#000">AD</text>
<line x1="353.15" y1="487.1" x2="353.15" y2="478.6" stroke="#444" stroke-width="0.9"/>
<line x1="350.15" y1="478.6" x2="356.15" y2="478.6" stroke="#444" stroke-width="0.9"/>
<rect x="347.34999999999997" y="487.75" width="11.600000000000033" height="28.450000000000024" fill="#d9d9d9" stroke="#000" stroke-width="1.3"/>
<line x1="353.15" y1="516.2" x2="353.15" y2="520.4000000000001" stroke="#000" stroke-width="1.0"/>
<text x="353.15" y="527.7" font-size="6.9" font-weight="bold" font-style="normal" text-anchor="middle" fill="#000">OD</text>
<line x1="372.5" y1="490.8" x2="372.5" y2="476.2" stroke="#444" stroke-width="0.9"/>
<line x1="369.5" y1="476.2" x2="375.5" y2="476.2" stroke="#444" stroke-width="0.9"/>
<rect x="366.54999999999995" y="491.45" width="11.900000000000045" height="24.750000000000036" fill="#ffffff" stroke="#000" stroke-width="1.3"/>
<line x1="372.5" y1="516.2" x2="372.5" y2="520.4000000000001" stroke="#000" stroke-width="1.0"/>
<text x="372.5" y="527.7" font-size="6.9" font-weight="bold" font-style="normal" text-anchor="middle" fill="#000">ID</text>
<circle cx="314.5" cy="447.3" r="0.95" fill="#000"/>
<circle cx="314.5" cy="454.3" r="0.95" fill="#000"/>
<circle cx="314.5" cy="473.4" r="0.95" fill="#000"/>
<circle cx="314.5" cy="475.9" r="0.95" fill="#000"/>
<circle cx="314.5" cy="482.1" r="0.95" fill="#000"/>
<circle cx="314.5" cy="485.9" r="0.95" fill="#000"/>
<circle cx="333.75" cy="439.8" r="0.95" fill="#000"/>
<circle cx="333.75" cy="443.6" r="0.95" fill="#000"/>
<circle cx="333.75" cy="446.8" r="0.95" fill="#000"/>
<circle cx="333.75" cy="451.8" r="0.95" fill="#000"/>
<circle cx="333.75" cy="479.6" r="0.95" fill="#000"/>
<circle cx="333.75" cy="488.4" r="0.95" fill="#000"/>
<circle cx="333.75" cy="495.8" r="0.95" fill="#000"/>
<circle cx="333.75" cy="498.3" r="0.95" fill="#000"/>
<circle cx="353.15" cy="472.2" r="0.95" fill="#000"/>
<circle cx="353.15" cy="474.7" r="0.95" fill="#000"/>
<circle cx="353.15" cy="484.6" r="0.95" fill="#000"/>
<circle cx="353.15" cy="488.4" r="0.95" fill="#000"/>
<circle cx="353.15" cy="493.3" r="0.95" fill="#000"/>
<circle cx="353.15" cy="500.8" r="0.95" fill="#000"/>
<circle cx="372.5" cy="463.5" r="0.95" fill="#000"/>
<circle cx="372.5" cy="466" r="0.95" fill="#000"/>
<circle cx="372.5" cy="485.9" r="0.95" fill="#000"/>
<circle cx="372.5" cy="494.6" r="0.95" fill="#000"/>
<circle cx="372.5" cy="498.3" r="0.95" fill="#000"/>
<circle cx="372.5" cy="504.5" r="0.95" fill="#000"/>
<line x1="314.6" y1="413.5" x2="372.3" y2="413.5" stroke="#555" stroke-width="1.0"/>
<polygon points="343.50,405.10 342.93,406.40 341.51,406.25 342.35,407.40 341.51,408.55 342.93,408.40 343.50,409.70 344.07,408.40 345.49,408.55 344.65,407.40 345.49,406.25 344.07,406.40" fill="#000"/>
<line x1="314.6" y1="430.5" x2="352.9" y2="430.5" stroke="#555" stroke-width="1.0"/>
<polygon points="334.00,422.70 333.43,424.00 332.01,423.85 332.85,425.00 332.01,426.15 333.43,426.00 334.00,427.30 334.57,426.00 335.99,426.15 335.15,425.00 335.99,423.85 334.57,424.00" fill="#000"/>
<text transform="translate(286.176,476.4) rotate(-90)" x="0" y="0" font-size="6.6" font-weight="bold" text-anchor="middle" textLength="84" lengthAdjust="spacingAndGlyphs"><tspan font-style="italic">Il-6ra/Rpl30</tspan> mRNA level</text>
<line x1="437.6" y1="435.7" x2="437.6" y2="517.0" stroke="#444" stroke-width="1.1"/>
<line x1="433.40000000000003" y1="516.5" x2="437.6" y2="516.5" stroke="#444" stroke-width="1.0"/>
<text x="432.20000000000005" y="518.876" font-size="6.6" font-weight="bold" font-style="normal" text-anchor="end" fill="#333">0</text>
<line x1="433.40000000000003" y1="496.3" x2="437.6" y2="496.3" stroke="#444" stroke-width="1.0"/>
<text x="432.20000000000005" y="498.676" font-size="6.6" font-weight="bold" font-style="normal" text-anchor="end" fill="#333">1</text>
<line x1="433.40000000000003" y1="476.1" x2="437.6" y2="476.1" stroke="#444" stroke-width="1.0"/>
<text x="432.20000000000005" y="478.476" font-size="6.6" font-weight="bold" font-style="normal" text-anchor="end" fill="#333">2</text>
<line x1="433.40000000000003" y1="455.9" x2="437.6" y2="455.9" stroke="#444" stroke-width="1.0"/>
<text x="432.20000000000005" y="458.27599999999995" font-size="6.6" font-weight="bold" font-style="normal" text-anchor="end" fill="#333">3</text>
<line x1="433.40000000000003" y1="435.7" x2="437.6" y2="435.7" stroke="#444" stroke-width="1.0"/>
<text x="432.20000000000005" y="438.07599999999996" font-size="6.6" font-weight="bold" font-style="normal" text-anchor="end" fill="#333">4</text>
<line x1="433.40000000000003" y1="516.5" x2="517.5" y2="516.5" stroke="#000" stroke-width="1.2"/>
<line x1="449.85" y1="482.1" x2="449.85" y2="460.2" stroke="#444" stroke-width="0.9"/>
<line x1="446.85" y1="460.2" x2="452.85" y2="460.2" stroke="#444" stroke-width="0.9"/>
<rect x="444.25" y="482.75" width="11.2" height="33.74999999999998" fill="#595959" stroke="#000" stroke-width="1.3"/>
<line x1="449.85" y1="516.5" x2="449.85" y2="520.7" stroke="#444" stroke-width="1.0"/>
<text x="449.85" y="527.7" font-size="6.5" font-weight="bold" font-style="normal" text-anchor="middle" fill="#000">SD</text>
<line x1="468.5" y1="492.3" x2="468.5" y2="483.4" stroke="#444" stroke-width="0.9"/>
<line x1="465.5" y1="483.4" x2="471.5" y2="483.4" stroke="#444" stroke-width="0.9"/>
<rect x="462.95" y="492.95" width="11.099999999999977" height="23.54999999999999" fill="#a6a6a6" stroke="#000" stroke-width="1.3"/>
<line x1="468.5" y1="516.5" x2="468.5" y2="520.7" stroke="#444" stroke-width="1.0"/>
<text x="468.5" y="527.7" font-size="6.5" font-weight="bold" font-style="normal" text-anchor="middle" fill="#000">AD</text>
<line x1="487.2" y1="502" x2="487.2" y2="494.6" stroke="#444" stroke-width="0.9"/>
<line x1="484.2" y1="494.6" x2="490.2" y2="494.6" stroke="#444" stroke-width="0.9"/>
<rect x="481.65" y="502.65" width="11.099999999999977" height="13.85" fill="#d9d9d9" stroke="#000" stroke-width="1.3"/>
<line x1="487.2" y1="516.5" x2="487.2" y2="520.7" stroke="#444" stroke-width="1.0"/>
<text x="487.2" y="527.7" font-size="6.5" font-weight="bold" font-style="normal" text-anchor="middle" fill="#000">OD</text>
<line x1="505.35" y1="500.8" x2="505.35" y2="492.1" stroke="#444" stroke-width="0.9"/>
<line x1="502.35" y1="492.1" x2="508.35" y2="492.1" stroke="#444" stroke-width="0.9"/>
<rect x="499.75" y="501.45" width="11.2" height="15.049999999999988" fill="#ffffff" stroke="#000" stroke-width="1.3"/>
<line x1="505.35" y1="516.5" x2="505.35" y2="520.7" stroke="#444" stroke-width="1.0"/>
<text x="505.35" y="527.7" font-size="6.5" font-weight="bold" font-style="normal" text-anchor="middle" fill="#000">ID</text>
<circle cx="449.85" cy="439.3" r="0.95" fill="#000"/>
<circle cx="449.85" cy="468.4" r="0.95" fill="#000"/>
<circle cx="449.85" cy="485.9" r="0.95" fill="#000"/>
<circle cx="449.85" cy="490.8" r="0.95" fill="#000"/>
<circle cx="449.85" cy="495.8" r="0.95" fill="#000"/>
<circle cx="449.85" cy="500.8" r="0.95" fill="#000"/>
<circle cx="468.5" cy="470.4" r="0.95" fill="#000"/>
<circle cx="468.5" cy="488.4" r="0.95" fill="#000"/>
<circle cx="468.5" cy="493.3" r="0.95" fill="#000"/>
<circle cx="468.5" cy="497.1" r="0.95" fill="#000"/>
<circle cx="468.5" cy="502" r="0.95" fill="#000"/>
<circle cx="487.2" cy="492.1" r="0.95" fill="#000"/>
<circle cx="487.2" cy="494.6" r="0.95" fill="#000"/>
<circle cx="487.2" cy="505.8" r="0.95" fill="#000"/>
<circle cx="487.2" cy="508.3" r="0.95" fill="#000"/>
<circle cx="487.2" cy="512" r="0.95" fill="#000"/>
<circle cx="505.35" cy="482.1" r="0.95" fill="#000"/>
<circle cx="505.35" cy="487.1" r="0.95" fill="#000"/>
<circle cx="505.35" cy="499.6" r="0.95" fill="#000"/>
<circle cx="505.35" cy="504.5" r="0.95" fill="#000"/>
<circle cx="505.35" cy="508.3" r="0.95" fill="#000"/>
<line x1="449.9" y1="412.5" x2="506" y2="412.5" stroke="#666" stroke-width="0.9"/>
<polygon points="477.70,404.60 477.12,405.90 475.71,405.75 476.55,406.90 475.71,408.05 477.12,407.90 477.70,409.20 478.27,407.90 479.69,408.05 478.85,406.90 479.69,405.75 478.27,405.90" fill="#000"/>
<line x1="449.9" y1="429.5" x2="486.9" y2="429.5" stroke="#666" stroke-width="0.9"/>
<polygon points="468.50,421.90 467.93,423.20 466.51,423.05 467.35,424.20 466.51,425.35 467.93,425.20 468.50,426.50 469.07,425.20 470.49,425.35 469.65,424.20 470.49,423.05 469.07,423.20" fill="#000"/>
<text transform="translate(426.676,476.5) rotate(-90)" x="0" y="0" font-size="6.6" font-weight="bold" text-anchor="middle" textLength="78.4" lengthAdjust="spacingAndGlyphs"><tspan font-style="italic">Foxp3/Rpl30</tspan> mRNA level</text>
<line x1="582.6" y1="416.2" x2="582.6" y2="518.0" stroke="#000" stroke-width="1.1"/>
<line x1="578.4" y1="517.5" x2="582.6" y2="517.5" stroke="#000" stroke-width="1.0"/>
<text x="577.1999999999999" y="520.092" font-size="7.2" font-weight="bold" font-style="normal" text-anchor="end" fill="#000">0</text>
<line x1="578.4" y1="497.24" x2="582.6" y2="497.24" stroke="#000" stroke-width="1.0"/>
<text x="577.1999999999999" y="499.832" font-size="7.2" font-weight="bold" font-style="normal" text-anchor="end" fill="#000">1</text>
<line x1="578.4" y1="476.98" x2="582.6" y2="476.98" stroke="#000" stroke-width="1.0"/>
<text x="577.1999999999999" y="479.572" font-size="7.2" font-weight="bold" font-style="normal" text-anchor="end" fill="#000">2</text>
<line x1="578.4" y1="456.72" x2="582.6" y2="456.72" stroke="#000" stroke-width="1.0"/>
<text x="577.1999999999999" y="459.312" font-size="7.2" font-weight="bold" font-style="normal" text-anchor="end" fill="#000">3</text>
<line x1="578.4" y1="436.46" x2="582.6" y2="436.46" stroke="#000" stroke-width="1.0"/>
<text x="577.1999999999999" y="439.05199999999996" font-size="7.2" font-weight="bold" font-style="normal" text-anchor="end" fill="#000">4</text>
<line x1="578.4" y1="416.2" x2="582.6" y2="416.2" stroke="#000" stroke-width="1.0"/>
<text x="577.1999999999999" y="418.792" font-size="7.2" font-weight="bold" font-style="normal" text-anchor="end" fill="#000">5</text>
<line x1="578.4" y1="517.5" x2="650.8" y2="517.5" stroke="#000" stroke-width="1.2"/>
<line x1="602.25" y1="500.1" x2="602.25" y2="476.4" stroke="#bbb" stroke-width="0.9"/>
<line x1="597.95" y1="476.4" x2="606.55" y2="476.4" stroke="#bbb" stroke-width="0.9"/>
<rect x="592.9499999999999" y="500.75" width="18.60000000000009" height="16.74999999999998" fill="#a6a6a6" stroke="#000" stroke-width="1.3"/>
<line x1="602.25" y1="517.5" x2="602.25" y2="521.7" stroke="#000" stroke-width="1.0"/>
<text x="602.25" y="530.7" font-size="7.3" font-weight="bold" font-style="normal" text-anchor="middle" fill="#000">AD</text>
<line x1="630.95" y1="513.8" x2="630.95" y2="511.5" stroke="#444" stroke-width="0.9"/>
<line x1="626.6500000000001" y1="511.5" x2="635.25" y2="511.5" stroke="#444" stroke-width="0.9"/>
<rect x="621.65" y="514.4499999999999" width="18.599999999999977" height="3.0500000000000456" fill="#d9d9d9" stroke="#000" stroke-width="1.3"/>
<line x1="630.95" y1="517.5" x2="630.95" y2="521.7" stroke="#000" stroke-width="1.0"/>
<text x="630.95" y="530.7" font-size="7.3" font-weight="bold" font-style="normal" text-anchor="middle" fill="#000">OD</text>
<circle cx="602.25" cy="435.4" r="0.95" fill="#000"/>
<circle cx="602.25" cy="471.7" r="0.95" fill="#000"/>
<circle cx="602.25" cy="493.4" r="0.95" fill="#000"/>
<circle cx="602.25" cy="503.3" r="0.95" fill="#000"/>
<circle cx="602.25" cy="509.5" r="0.95" fill="#000"/>
<circle cx="602.25" cy="512" r="0.95" fill="#000"/>
<circle cx="602.25" cy="514.5" r="0.95" fill="#000"/>
<circle cx="628.5500000000001" cy="509.5" r="0.95" fill="#000"/>
<circle cx="630.95" cy="510.8" r="0.95" fill="#000"/>
<circle cx="633.35" cy="512.5" r="0.95" fill="#000"/>
<line x1="601.8" y1="423.5" x2="630.9" y2="423.5" stroke="#222" stroke-width="1.3"/>
<polygon points="616.40,413.80 615.73,415.33 614.06,415.15 615.05,416.50 614.06,417.85 615.73,417.67 616.40,419.20 617.07,417.67 618.74,417.85 617.75,416.50 618.74,415.15 617.07,415.33" fill="#000"/>
<text transform="translate(568.336,467.9) rotate(-90)" x="0" y="0" font-size="7.6" font-weight="bold" text-anchor="middle" textLength="93.3" lengthAdjust="spacingAndGlyphs"><tspan font-style="italic">Fgf-2/Rpl30</tspan> mRNA level</text>
<line x1="178.8" y1="207.4" x2="178.8" y2="311.7" stroke="#000" stroke-width="1.2"/>
<line x1="174.60000000000002" y1="307.5" x2="328.5" y2="307.5" stroke="#000" stroke-width="1.2"/>
<line x1="174.60000000000002" y1="307.5" x2="178.8" y2="307.5" stroke="#000" stroke-width="1.0"/>
<text x="173.3" y="310.164" font-size="7.4" font-weight="bold" font-style="normal" text-anchor="end" fill="#000">0.0</text>
<line x1="174.60000000000002" y1="282.475" x2="178.8" y2="282.475" stroke="#000" stroke-width="1.0"/>
<text x="173.3" y="285.139" font-size="7.4" font-weight="bold" font-style="normal" text-anchor="end" fill="#000">0.5</text>
<line x1="174.60000000000002" y1="257.45" x2="178.8" y2="257.45" stroke="#000" stroke-width="1.0"/>
<text x="173.3" y="260.114" font-size="7.4" font-weight="bold" font-style="normal" text-anchor="end" fill="#000">1.0</text>
<line x1="174.60000000000002" y1="232.425" x2="178.8" y2="232.425" stroke="#000" stroke-width="1.0"/>
<text x="173.3" y="235.089" font-size="7.4" font-weight="bold" font-style="normal" text-anchor="end" fill="#000">1.5</text>
<line x1="174.60000000000002" y1="207.4" x2="178.8" y2="207.4" stroke="#000" stroke-width="1.0"/>
<text x="173.3" y="210.064" font-size="7.4" font-weight="bold" font-style="normal" text-anchor="end" fill="#000">2.0</text>
<line x1="178.8" y1="307.5" x2="178.8" y2="311.7" stroke="#000" stroke-width="1.0"/>
<text x="178.8" y="320.2" font-size="7.4" font-weight="bold" font-style="normal" text-anchor="middle" fill="#000">0.0</text>
<line x1="208.74" y1="307.5" x2="208.74" y2="311.7" stroke="#000" stroke-width="1.0"/>
<text x="208.74" y="320.2" font-size="7.4" font-weight="bold" font-style="normal" text-anchor="middle" fill="#000">0.1</text>
<line x1="238.68" y1="307.5" x2="238.68" y2="311.7" stroke="#000" stroke-width="1.0"/>
<text x="238.68" y="320.2" font-size="7.4" font-weight="bold" font-style="normal" text-anchor="middle" fill="#000">0.2</text>
<line x1="268.62" y1="307.5" x2="268.62" y2="311.7" stroke="#000" stroke-width="1.0"/>
<text x="268.62" y="320.2" font-size="7.4" font-weight="bold" font-style="normal" text-anchor="middle" fill="#000">0.3</text>
<line x1="298.56" y1="307.5" x2="298.56" y2="311.7" stroke="#000" stroke-width="1.0"/>
<text x="298.56" y="320.2" font-size="7.4" font-weight="bold" font-style="normal" text-anchor="middle" fill="#000">0.4</text>
<line x1="328.5" y1="307.5" x2="328.5" y2="311.7" stroke="#000" stroke-width="1.0"/>
<text x="328.5" y="320.2" font-size="7.4" font-weight="bold" font-style="normal" text-anchor="middle" fill="#000">0.5</text>
<line x1="187" y1="264.7" x2="309.5" y2="230.46124999999998" stroke="#222" stroke-width="0.85"/>
<polyline points="187.00,259.80 190.06,259.07 193.12,258.31 196.19,257.53 199.25,256.73 202.31,255.91 205.38,255.06 208.44,254.19 211.50,253.29 214.56,252.38 217.62,251.44 220.69,250.48 223.75,249.50 226.81,248.50 229.88,247.49 232.94,246.46 236.00,245.42 239.06,244.37 242.12,243.30 245.19,242.22 248.25,241.14 251.31,240.05 254.38,238.95 257.44,237.84 260.50,236.73 263.56,235.61 266.62,234.49 269.69,233.36 272.75,232.23 275.81,231.10 278.88,229.96 281.94,228.82 285.00,227.68 288.06,226.53 291.12,225.38 294.19,224.23 297.25,223.08 300.31,221.93 303.38,220.77 306.44,219.62 309.50,218.46" fill="none" stroke="#9a9a9a" stroke-width="0.65" stroke-dasharray="1.6,1.1"/>
<polyline points="187.00,269.60 190.06,268.62 193.12,267.67 196.19,266.73 199.25,265.82 202.31,264.93 205.38,264.07 208.44,263.23 211.50,262.41 214.56,261.62 217.62,260.84 220.69,260.09 223.75,259.36 226.81,258.64 229.88,257.94 232.94,257.26 236.00,256.59 239.06,255.93 242.12,255.29 245.19,254.65 248.25,254.02 251.31,253.40 254.38,252.79 257.44,252.19 260.50,251.59 263.56,250.99 266.62,250.40 269.69,249.82 272.75,249.24 275.81,248.66 278.88,248.08 281.94,247.51 285.00,246.94 288.06,246.38 291.12,245.81 294.19,245.25 297.25,244.69 300.31,244.13 303.38,243.57 306.44,243.02 309.50,242.46" fill="none" stroke="#9a9a9a" stroke-width="0.65" stroke-dasharray="1.6,1.1"/>
<circle cx="188.2" cy="282.2" r="1.2" fill="#000"/>
<circle cx="193.4" cy="246.7" r="1.2" fill="#000"/>
<circle cx="193.8" cy="251.4" r="1.2" fill="#000"/>
<circle cx="194.5" cy="261.9" r="1.2" fill="#000"/>
<circle cx="193" cy="272.5" r="1.2" fill="#000"/>
<circle cx="198" cy="254.4" r="1.2" fill="#000"/>
<circle cx="196.9" cy="268.9" r="1.2" fill="#000"/>
<circle cx="201" cy="281" r="1.2" fill="#000"/>
<circle cx="203.2" cy="248.6" r="1.2" fill="#000"/>
<circle cx="203.9" cy="252.6" r="1.2" fill="#000"/>
<circle cx="205" cy="266.1" r="1.2" fill="#000"/>
<circle cx="206.2" cy="261.2" r="1.2" fill="#000"/>
<circle cx="202.7" cy="263" r="1.2" fill="#000"/>
<circle cx="207.4" cy="249.8" r="1.2" fill="#000"/>
<circle cx="212" cy="237.4" r="1.2" fill="#000"/>
<circle cx="212.7" cy="240.9" r="1.2" fill="#000"/>
<circle cx="210.9" cy="257.2" r="1.2" fill="#000"/>
<circle cx="215.5" cy="256.8" r="1.2" fill="#000"/>
<circle cx="216.7" cy="254.9" r="1.2" fill="#000"/>
<circle cx="216.2" cy="263" r="1.2" fill="#000"/>
<circle cx="217.9" cy="274.7" r="1.2" fill="#000"/>
<circle cx="218.6" cy="251.4" r="1.2" fill="#000"/>
<circle cx="249" cy="263" r="1.2" fill="#000"/>
<path d="M251.3 238.76L252.62 241.16L249.98000000000002 241.16Z" fill="#000"/>
<circle cx="265.8" cy="246.3" r="1.2" fill="#000"/>
<rect x="273.90000000000003" y="255.60000000000002" width="2.4" height="2.4" fill="#000"/>
<circle cx="297.8" cy="223.8" r="1.2" fill="#000"/>
<circle cx="309.5" cy="229" r="1.2" fill="#000"/>
<text transform="translate(159.136,257) rotate(-90)" x="0" y="0" font-size="7.6" font-weight="bold" text-anchor="middle" textLength="41.4" lengthAdjust="spacingAndGlyphs"><tspan font-style="italic">Acat/Rpl30</tspan></text>
<text x="224.5" y="332.5" font-size="8.2" font-weight="bold" font-style="italic" text-anchor="start" fill="#000" textLength="59.6" lengthAdjust="spacingAndGlyphs">Cyp27a1/Rpl30</text>
<rect x="319.5" y="211.8" width="45.19999999999999" height="13.899999999999977" fill="#fff" stroke="#2a2a2a" stroke-width="1.15"/>
<text x="322.6" y="221.65" font-size="8.3" font-weight="normal" font-style="normal" text-anchor="start" fill="#222" textLength="39.1" lengthAdjust="spacingAndGlyphs">p=&lt;0.0001</text>
<rect x="319.5" y="231.4" width="44.39999999999998" height="14.199999999999989" fill="#fff" stroke="#2a2a2a" stroke-width="1.15"/>
<text x="322.6" y="241.4" font-size="8.3" font-weight="normal" font-style="normal" text-anchor="start" fill="#222" textLength="38" lengthAdjust="spacingAndGlyphs">R²=0.3869</text>
<rect x="319.5" y="250.2" width="23.899999999999977" height="14.199999999999989" fill="#fff" stroke="#2a2a2a" stroke-width="1.15"/>
<text x="322.6" y="260.19999999999993" font-size="8.3" font-weight="normal" font-style="normal" text-anchor="start" fill="#222" textLength="18.2" lengthAdjust="spacingAndGlyphs">n=37</text>
<rect x="319.9" y="270.8" width="38.5" height="13.5" fill="#fff" stroke="#2a2a2a" stroke-width="1.15"/>
<path d="M330.95 274.45L334.09999999999997 280.35L327.79999999999995 280.35Z" fill="#000"/>
<text x="335.0" y="280.45" font-size="8.3" font-weight="normal" font-style="normal" text-anchor="start" fill="#222" textLength="16.3" lengthAdjust="spacingAndGlyphs">=SD</text>
<rect x="363.2" y="270.8" width="38.69999999999999" height="13.5" fill="#fff" stroke="#2a2a2a" stroke-width="1.15"/>
<rect x="371.4" y="274.65000000000003" width="6" height="5.8" fill="#000"/>
<text x="378.3" y="280.45" font-size="8.3" font-weight="normal" font-style="normal" text-anchor="start" fill="#222" textLength="16.3" lengthAdjust="spacingAndGlyphs">=AD</text>
<rect x="319.9" y="286.8" width="38.5" height="14.099999999999966" fill="#fff" stroke="#2a2a2a" stroke-width="1.15"/>
<path d="M330.65 290.35L334.29999999999995 293.85L330.65 297.35L327.0 293.85Z" fill="#000"/>
<text x="335.0" y="296.75" font-size="8.3" font-weight="normal" font-style="normal" text-anchor="start" fill="#222" textLength="16.9" lengthAdjust="spacingAndGlyphs">=OD</text>
<rect x="363.2" y="286.8" width="38.69999999999999" height="14.099999999999966" fill="#fff" stroke="#2a2a2a" stroke-width="1.15"/>
<circle cx="374.84999999999997" cy="293.85" r="3.2" fill="#000"/>
<text x="380.8" y="296.75" font-size="8.3" font-weight="normal" font-style="normal" text-anchor="start" fill="#222" textLength="12.5" lengthAdjust="spacingAndGlyphs">=ID</text>
<line x1="449" y1="209.40000000000003" x2="449" y2="313.3" stroke="#666" stroke-width="1.2"/>
<line x1="444.8" y1="309.1" x2="598.3" y2="309.1" stroke="#666" stroke-width="1.2"/>
<line x1="444.8" y1="309.1" x2="449" y2="309.1" stroke="#666" stroke-width="1.0"/>
<text x="443.5" y="311.692" font-size="7.2" font-weight="bold" font-style="normal" text-anchor="end" fill="#000">0.0</text>
<line x1="444.8" y1="284.175" x2="449" y2="284.175" stroke="#666" stroke-width="1.0"/>
<text x="443.5" y="286.767" font-size="7.2" font-weight="bold" font-style="normal" text-anchor="end" fill="#000">0.5</text>
<line x1="444.8" y1="259.25" x2="449" y2="259.25" stroke="#666" stroke-width="1.0"/>
<text x="443.5" y="261.842" font-size="7.2" font-weight="bold" font-style="normal" text-anchor="end" fill="#000">1.0</text>
<line x1="444.8" y1="234.32500000000002" x2="449" y2="234.32500000000002" stroke="#666" stroke-width="1.0"/>
<text x="443.5" y="236.91700000000003" font-size="7.2" font-weight="bold" font-style="normal" text-anchor="end" fill="#000">1.5</text>
<line x1="444.8" y1="209.40000000000003" x2="449" y2="209.40000000000003" stroke="#666" stroke-width="1.0"/>
<text x="443.5" y="211.99200000000005" font-size="7.2" font-weight="bold" font-style="normal" text-anchor="end" fill="#000">2.0</text>
<line x1="449.0" y1="309.1" x2="449.0" y2="313.3" stroke="#666" stroke-width="1.0"/>
<text x="449.0" y="321.6" font-size="7.2" font-weight="bold" font-style="normal" text-anchor="middle" fill="#000">0.0</text>
<line x1="478.86" y1="309.1" x2="478.86" y2="313.3" stroke="#666" stroke-width="1.0"/>
<text x="478.86" y="321.6" font-size="7.2" font-weight="bold" font-style="normal" text-anchor="middle" fill="#000">0.1</text>
<line x1="508.72" y1="309.1" x2="508.72" y2="313.3" stroke="#666" stroke-width="1.0"/>
<text x="508.72" y="321.6" font-size="7.2" font-weight="bold" font-style="normal" text-anchor="middle" fill="#000">0.2</text>
<line x1="538.58" y1="309.1" x2="538.58" y2="313.3" stroke="#666" stroke-width="1.0"/>
<text x="538.58" y="321.6" font-size="7.2" font-weight="bold" font-style="normal" text-anchor="middle" fill="#000">0.3</text>
<line x1="568.44" y1="309.1" x2="568.44" y2="313.3" stroke="#666" stroke-width="1.0"/>
<text x="568.44" y="321.6" font-size="7.2" font-weight="bold" font-style="normal" text-anchor="middle" fill="#000">0.4</text>
<line x1="598.3" y1="309.1" x2="598.3" y2="313.3" stroke="#666" stroke-width="1.0"/>
<text x="598.3" y="321.6" font-size="7.2" font-weight="bold" font-style="normal" text-anchor="middle" fill="#000">0.5</text>
<line x1="457.4" y1="270.1" x2="578.5" y2="234.90834" stroke="#222" stroke-width="0.85"/>
<polyline points="457.40,263.60 460.43,262.95 463.45,262.27 466.48,261.56 469.51,260.82 472.54,260.03 475.56,259.20 478.59,258.34 481.62,257.43 484.65,256.48 487.67,255.49 490.70,254.46 493.73,253.40 496.76,252.31 499.78,251.19 502.81,250.04 505.84,248.87 508.87,247.68 511.89,246.47 514.92,245.25 517.95,244.01 520.98,242.76 524.00,241.50 527.03,240.23 530.06,238.96 533.09,237.67 536.12,236.38 539.14,235.08 542.17,233.78 545.20,232.48 548.23,231.17 551.25,229.85 554.28,228.53 557.31,227.21 560.34,225.89 563.36,224.56 566.39,223.24 569.42,221.91 572.45,220.57 575.47,219.24 578.50,217.90" fill="none" stroke="#9a9a9a" stroke-width="0.65" stroke-dasharray="1.6,1.1"/>
<polyline points="457.40,276.60 460.43,275.49 463.45,274.41 466.48,273.36 469.51,272.35 472.54,271.37 475.56,270.44 478.59,269.55 481.62,268.69 484.65,267.89 487.67,267.11 490.70,266.38 493.73,265.68 496.76,265.02 499.78,264.38 502.81,263.77 505.84,263.18 508.87,262.61 511.89,262.06 514.92,261.52 517.95,261.00 520.98,260.49 524.00,259.99 527.03,259.50 530.06,259.01 533.09,258.54 536.12,258.07 539.14,257.61 542.17,257.15 545.20,256.70 548.23,256.25 551.25,255.80 554.28,255.36 557.31,254.92 560.34,254.48 563.36,254.05 566.39,253.62 569.42,253.19 572.45,252.76 575.47,252.34 578.50,251.91" fill="none" stroke="#9a9a9a" stroke-width="0.65" stroke-dasharray="1.6,1.1"/>
<circle cx="458.7" cy="284.1" r="1.2" fill="#000"/>
<circle cx="457.5" cy="271.2" r="1.2" fill="#000"/>
<circle cx="463.4" cy="258.4" r="1.2" fill="#000"/>
<circle cx="463.4" cy="275.9" r="1.2" fill="#000"/>
<circle cx="463.8" cy="286.9" r="1.2" fill="#000"/>
<circle cx="462.9" cy="282.2" r="1.2" fill="#000"/>
<circle cx="464.5" cy="270.8" r="1.2" fill="#000"/>
<circle cx="465.2" cy="274.3" r="1.2" fill="#000"/>
<circle cx="466.9" cy="284.1" r="1.2" fill="#000"/>
<circle cx="468" cy="261.2" r="1.2" fill="#000"/>
<circle cx="469.9" cy="279.4" r="1.2" fill="#000"/>
<circle cx="471.1" cy="291.6" r="1.2" fill="#000"/>
<circle cx="473.2" cy="239.7" r="1.2" fill="#000"/>
<circle cx="473.2" cy="253.3" r="1.2" fill="#000"/>
<circle cx="474.1" cy="259.6" r="1.2" fill="#000"/>
<circle cx="475" cy="263.1" r="1.2" fill="#000"/>
<circle cx="476.2" cy="280.6" r="1.2" fill="#000"/>
<circle cx="477.4" cy="249.8" r="1.2" fill="#000"/>
<circle cx="479.2" cy="267.7" r="1.2" fill="#000"/>
<circle cx="480.9" cy="245.6" r="1.2" fill="#000"/>
<circle cx="482.5" cy="229.9" r="1.2" fill="#000"/>
<circle cx="482.7" cy="250.9" r="1.2" fill="#000"/>
<circle cx="484.8" cy="263.1" r="1.2" fill="#000"/>
<circle cx="486.3" cy="278.3" r="1.2" fill="#000"/>
<circle cx="486.7" cy="267" r="1.2" fill="#000"/>
<circle cx="487.2" cy="234.6" r="1.2" fill="#000"/>
<circle cx="487.9" cy="287.1" r="1.2" fill="#000"/>
<circle cx="489" cy="242.7" r="1.2" fill="#000"/>
<circle cx="519" cy="249.8" r="1.2" fill="#000"/>
<circle cx="521.3" cy="247.9" r="1.2" fill="#000"/>
<circle cx="535.8" cy="263.8" r="1.2" fill="#000"/>
<circle cx="545.1" cy="273.6" r="1.2" fill="#000"/>
<circle cx="567.3" cy="232" r="1.2" fill="#000"/>
<circle cx="579" cy="226.9" r="1.2" fill="#000"/>
<text transform="translate(429.09999999999997,257.6) rotate(-90)" x="0" y="0" font-size="7.5" font-weight="bold" text-anchor="middle" textLength="58.8" lengthAdjust="spacingAndGlyphs"><tspan font-style="italic">Nfkb p65/Rpl30</tspan></text>
<text x="494.6" y="333.6" font-size="8.2" font-weight="bold" font-style="italic" text-anchor="start" fill="#000" textLength="59.2" lengthAdjust="spacingAndGlyphs">Cyp27a1/Rpl30</text>
<rect x="602.2" y="199.6" width="40.0" height="13.900000000000006" fill="#fff" stroke="#2a2a2a" stroke-width="1.15"/>
<text x="605.3000000000001" y="209.45000000000002" font-size="8.3" font-weight="normal" font-style="normal" text-anchor="start" fill="#222" textLength="35.2" lengthAdjust="spacingAndGlyphs">p=0.0017</text>
<rect x="602.2" y="223.5" width="43.799999999999955" height="13.900000000000006" fill="#fff" stroke="#2a2a2a" stroke-width="1.15"/>
<text x="605.3000000000001" y="233.35" font-size="8.3" font-weight="normal" font-style="normal" text-anchor="start" fill="#222" textLength="39" lengthAdjust="spacingAndGlyphs">R²=0.2358</text>
<rect x="602.2" y="245.5" width="23.899999999999977" height="13.899999999999977" fill="#fff" stroke="#2a2a2a" stroke-width="1.15"/>
<text x="605.3000000000001" y="255.35" font-size="8.3" font-weight="normal" font-style="normal" text-anchor="start" fill="#222" textLength="18.7" lengthAdjust="spacingAndGlyphs">n=39</text>
<rect x="602.2" y="277.4" width="39.0" height="13.800000000000011" fill="#fff" stroke="#2a2a2a" stroke-width="1.15"/>
<path d="M613.25 281.19999999999993L616.4000000000001 287.09999999999997L610.1 287.09999999999997Z" fill="#000"/>
<text x="617.3000000000001" y="287.19999999999993" font-size="8.3" font-weight="normal" font-style="normal" text-anchor="start" fill="#222" textLength="16.3" lengthAdjust="spacingAndGlyphs">=SD</text>
<rect x="645.3" y="277.4" width="38.700000000000045" height="13.800000000000011" fill="#fff" stroke="#2a2a2a" stroke-width="1.15"/>
<rect x="653.5" y="281.4" width="6" height="5.8" fill="#000"/>
<text x="660.4" y="287.19999999999993" font-size="8.3" font-weight="normal" font-style="normal" text-anchor="start" fill="#222" textLength="16.3" lengthAdjust="spacingAndGlyphs">=AD</text>
<rect x="602.2" y="293.6" width="39.0" height="14.199999999999989" fill="#fff" stroke="#2a2a2a" stroke-width="1.15"/>
<path d="M612.95 297.20000000000005L616.6 300.70000000000005L612.95 304.20000000000005L609.3000000000001 300.70000000000005Z" fill="#000"/>
<text x="617.3000000000001" y="303.6" font-size="8.3" font-weight="normal" font-style="normal" text-anchor="start" fill="#222" textLength="16.9" lengthAdjust="spacingAndGlyphs">=OD</text>
<rect x="645.3" y="293.6" width="38.700000000000045" height="14.199999999999989" fill="#fff" stroke="#2a2a2a" stroke-width="1.15"/>
<circle cx="656.9499999999999" cy="300.70000000000005" r="3.2" fill="#000"/>
<text x="662.9" y="303.6" font-size="8.3" font-weight="normal" font-style="normal" text-anchor="start" fill="#222" textLength="12.5" lengthAdjust="spacingAndGlyphs">=ID</text>
<line x1="19.9" y1="416.19" x2="19.9" y2="520.2" stroke="#666" stroke-width="1.2"/>
<line x1="15.7" y1="516" x2="169.9" y2="516" stroke="#666" stroke-width="1.2"/>
<line x1="15.7" y1="516.0" x2="19.9" y2="516.0" stroke="#666" stroke-width="1.0"/>
<text x="14.399999999999999" y="518.664" font-size="7.4" font-weight="bold" font-style="normal" text-anchor="end" fill="#000">0</text>
<line x1="15.7" y1="482.73" x2="19.9" y2="482.73" stroke="#666" stroke-width="1.0"/>
<text x="14.399999999999999" y="485.394" font-size="7.4" font-weight="bold" font-style="normal" text-anchor="end" fill="#000">1</text>
<line x1="15.7" y1="449.46" x2="19.9" y2="449.46" stroke="#666" stroke-width="1.0"/>
<text x="14.399999999999999" y="452.12399999999997" font-size="7.4" font-weight="bold" font-style="normal" text-anchor="end" fill="#000">2</text>
<line x1="15.7" y1="416.19" x2="19.9" y2="416.19" stroke="#666" stroke-width="1.0"/>
<text x="14.399999999999999" y="418.854" font-size="7.4" font-weight="bold" font-style="normal" text-anchor="end" fill="#000">3</text>
<line x1="19.9" y1="516" x2="19.9" y2="520.2" stroke="#666" stroke-width="1.0"/>
<text x="19.9" y="528.8" font-size="7.4" font-weight="bold" font-style="normal" text-anchor="middle" fill="#000">0.0</text>
<line x1="57.4" y1="516" x2="57.4" y2="520.2" stroke="#666" stroke-width="1.0"/>
<text x="57.4" y="528.8" font-size="7.4" font-weight="bold" font-style="normal" text-anchor="middle" fill="#000">0.5</text>
<line x1="94.9" y1="516" x2="94.9" y2="520.2" stroke="#666" stroke-width="1.0"/>
<text x="94.9" y="528.8" font-size="7.4" font-weight="bold" font-style="normal" text-anchor="middle" fill="#000">1.0</text>
<line x1="132.4" y1="516" x2="132.4" y2="520.2" stroke="#666" stroke-width="1.0"/>
<text x="132.4" y="528.8" font-size="7.4" font-weight="bold" font-style="normal" text-anchor="middle" fill="#000">1.5</text>
<line x1="169.9" y1="516" x2="169.9" y2="520.2" stroke="#666" stroke-width="1.0"/>
<text x="169.9" y="528.8" font-size="7.4" font-weight="bold" font-style="normal" text-anchor="middle" fill="#000">2.0</text>
<line x1="35.6" y1="501.0" x2="135.2" y2="459.29748" stroke="#222" stroke-width="0.85"/>
<polyline points="35.60,492.81 38.09,492.05 40.58,491.29 43.07,490.52 45.56,489.74 48.05,488.96 50.54,488.17 53.03,487.36 55.52,486.55 58.01,485.72 60.50,484.88 62.99,484.02 65.48,483.14 67.97,482.25 70.46,481.33 72.95,480.39 75.44,479.43 77.93,478.45 80.42,477.43 82.91,476.39 85.40,475.33 87.89,474.24 90.38,473.12 92.87,471.98 95.36,470.82 97.85,469.63 100.34,468.43 102.83,467.20 105.32,465.96 107.81,464.71 110.30,463.44 112.79,462.17 115.28,460.88 117.77,459.58 120.26,458.27 122.75,456.96 125.24,455.64 127.73,454.31 130.22,452.98 132.71,451.64 135.20,450.30" fill="none" stroke="#9a9a9a" stroke-width="0.65" stroke-dasharray="1.6,1.1"/>
<polyline points="35.60,509.19 38.09,507.86 40.58,506.54 43.07,505.23 45.56,503.92 48.05,502.62 50.54,501.32 53.03,500.04 55.52,498.77 58.01,497.52 60.50,496.27 62.99,495.05 65.48,493.84 67.97,492.65 70.46,491.48 72.95,490.33 75.44,489.21 77.93,488.11 80.42,487.04 82.91,485.99 85.40,484.97 87.89,483.98 90.38,483.01 92.87,482.06 95.36,481.14 97.85,480.24 100.34,479.36 102.83,478.50 105.32,477.65 107.81,476.82 110.30,476.00 112.79,475.19 115.28,474.40 117.77,473.61 120.26,472.83 122.75,472.06 125.24,471.30 127.73,470.54 130.22,469.79 132.71,469.04 135.20,468.30" fill="none" stroke="#9a9a9a" stroke-width="0.65" stroke-dasharray="1.6,1.1"/>
<circle cx="35.5" cy="503.9" r="1.2" fill="#000"/>
<circle cx="42.1" cy="500.8" r="1.2" fill="#000"/>
<circle cx="46.1" cy="498.7" r="1.2" fill="#000"/>
<circle cx="47.4" cy="491.6" r="1.2" fill="#000"/>
<circle cx="53.9" cy="492.1" r="1.2" fill="#000"/>
<circle cx="54.7" cy="498.7" r="1.2" fill="#000"/>
<circle cx="58.4" cy="500.8" r="1.2" fill="#000"/>
<rect x="58.0" y="430.40000000000003" width="2.4" height="2.4" fill="#000"/>
<circle cx="61.1" cy="496.1" r="1.2" fill="#000"/>
<circle cx="61.8" cy="493.4" r="1.2" fill="#000"/>
<circle cx="63.2" cy="490.8" r="1.2" fill="#000"/>
<circle cx="67.1" cy="492.6" r="1.2" fill="#000"/>
<circle cx="72.4" cy="494.7" r="1.2" fill="#000"/>
<circle cx="74.2" cy="489.5" r="1.2" fill="#000"/>
<circle cx="75" cy="492.6" r="1.2" fill="#000"/>
<circle cx="75.8" cy="476.3" r="1.2" fill="#000"/>
<circle cx="76.3" cy="484.2" r="1.2" fill="#000"/>
<circle cx="78.9" cy="475" r="1.2" fill="#000"/>
<circle cx="81.6" cy="484.2" r="1.2" fill="#000"/>
<circle cx="84.2" cy="485.5" r="1.2" fill="#000"/>
<circle cx="85.5" cy="483.7" r="1.2" fill="#000"/>
<circle cx="88.9" cy="473.7" r="1.2" fill="#000"/>
<circle cx="90.8" cy="481.6" r="1.2" fill="#000"/>
<circle cx="92.1" cy="488.2" r="1.2" fill="#000"/>
<circle cx="94.7" cy="482.9" r="1.2" fill="#000"/>
<circle cx="95.3" cy="467.9" r="1.2" fill="#000"/>
<circle cx="99.5" cy="478.9" r="1.2" fill="#000"/>
<rect x="99.6" y="448.8" width="2.4" height="2.4" fill="#000"/>
<circle cx="103.4" cy="488.2" r="1.2" fill="#000"/>
<circle cx="103.9" cy="456.1" r="1.2" fill="#000"/>
<circle cx="104.7" cy="477.6" r="1.2" fill="#000"/>
<circle cx="107.4" cy="465.8" r="1.2" fill="#000"/>
<circle cx="111.1" cy="454.7" r="1.2" fill="#000"/>
<circle cx="111.8" cy="460.5" r="1.2" fill="#000"/>
<circle cx="115.8" cy="468.9" r="1.2" fill="#000"/>
<circle cx="121.1" cy="476.3" r="1.2" fill="#000"/>
<circle cx="134.7" cy="463.2" r="1.2" fill="#000"/>
<text transform="translate(6.699999999999999,465.0) rotate(-90)" x="0" y="0" font-size="7.5" font-weight="bold" text-anchor="middle" textLength="58.7" lengthAdjust="spacingAndGlyphs"><tspan font-style="italic">Nfkb p65/Rpl30</tspan></text>
<text x="75.9" y="540.8" font-size="8.2" font-weight="bold" font-style="italic" text-anchor="start" fill="#000" textLength="39.0" lengthAdjust="spacingAndGlyphs">Akt/Rpl30</text>
<rect x="153.1" y="416.1" width="44.5" height="13.599999999999966" fill="#fff" stroke="#2a2a2a" stroke-width="1.15"/>
<text x="156.2" y="425.79999999999995" font-size="8.3" font-weight="normal" font-style="normal" text-anchor="start" fill="#222" textLength="39.1" lengthAdjust="spacingAndGlyphs">p=&lt;0.0001</text>
<rect x="153.1" y="437.4" width="43.5" height="13.800000000000011" fill="#fff" stroke="#2a2a2a" stroke-width="1.15"/>
<text x="156.2" y="447.19999999999993" font-size="8.3" font-weight="normal" font-style="normal" text-anchor="start" fill="#222" textLength="38.7" lengthAdjust="spacingAndGlyphs">R²=0.4104</text>
<rect x="153.5" y="458.6" width="23.5" height="13.799999999999955" fill="#fff" stroke="#2a2a2a" stroke-width="1.15"/>
<text x="156.6" y="468.4" font-size="8.3" font-weight="normal" font-style="normal" text-anchor="start" fill="#222" textLength="19.5" lengthAdjust="spacingAndGlyphs">n=46</text>
<rect x="153.5" y="478.9" width="39.099999999999994" height="13.5" fill="#fff" stroke="#2a2a2a" stroke-width="1.15"/>
<path d="M164.55 482.54999999999995L167.7 488.45L161.4 488.45Z" fill="#000"/>
<text x="168.6" y="488.54999999999995" font-size="8.3" font-weight="normal" font-style="normal" text-anchor="start" fill="#222" textLength="16.3" lengthAdjust="spacingAndGlyphs">=SD</text>
<rect x="197" y="478.9" width="38.5" height="13.5" fill="#fff" stroke="#2a2a2a" stroke-width="1.15"/>
<rect x="205.2" y="482.75" width="6" height="5.8" fill="#000"/>
<text x="212.1" y="488.54999999999995" font-size="8.3" font-weight="normal" font-style="normal" text-anchor="start" fill="#222" textLength="16.3" lengthAdjust="spacingAndGlyphs">=AD</text>
<rect x="153.5" y="496.1" width="39.099999999999994" height="13.799999999999955" fill="#fff" stroke="#2a2a2a" stroke-width="1.15"/>
<path d="M164.25 499.5L167.9 503.0L164.25 506.5L160.6 503.0Z" fill="#000"/>
<text x="168.6" y="505.9" font-size="8.3" font-weight="normal" font-style="normal" text-anchor="start" fill="#222" textLength="16.9" lengthAdjust="spacingAndGlyphs">=OD</text>
<rect x="197" y="496.1" width="38.5" height="13.799999999999955" fill="#fff" stroke="#2a2a2a" stroke-width="1.15"/>
<circle cx="208.65" cy="503.0" r="3.2" fill="#000"/>
<text x="214.6" y="505.9" font-size="8.3" font-weight="normal" font-style="normal" text-anchor="start" fill="#222" textLength="12.5" lengthAdjust="spacingAndGlyphs">=ID</text>
</svg>
</body></html>
